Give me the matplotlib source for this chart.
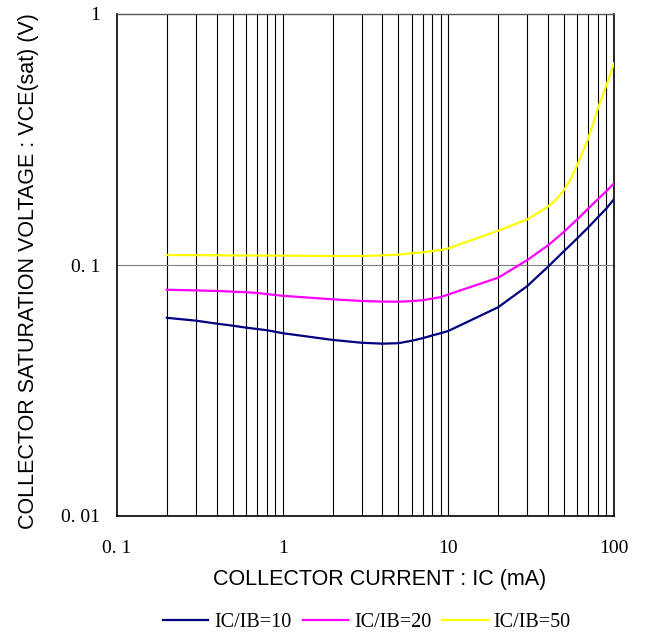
import matplotlib
matplotlib.use('Agg')
import matplotlib.pyplot as plt
from matplotlib.ticker import FixedLocator, NullFormatter

# readings (IC in mA, VCE(sat) in V)
ic_10 = [0.2, 0.3, 0.4, 0.5, 0.6, 0.7, 0.8, 1, 2, 3, 4, 5, 6, 7, 8, 9, 10, 20, 30, 40, 50, 60, 70, 80, 90, 100]
vce_10 = [0.0616, 0.060, 0.0584, 0.0573, 0.0563, 0.0556, 0.055, 0.0535, 0.0503, 0.049, 0.0486, 0.0488, 0.0499,
          0.0511, 0.0524, 0.0535, 0.0546, 0.0679, 0.0825, 0.0985, 0.1137, 0.1277, 0.1413, 0.155, 0.168, 0.183]

ic_20 = [0.2, 0.3, 0.4, 0.5, 0.6, 0.7, 0.8, 1, 2, 3, 4, 5, 6, 7, 8, 9, 10, 20, 30, 40, 50, 60, 70, 80, 90, 100]
vce_20 = [0.0797, 0.0792, 0.0788, 0.0783, 0.0779, 0.0774, 0.0766, 0.0754, 0.073, 0.0719, 0.0715, 0.0714, 0.0718,
          0.0724, 0.0735, 0.0745, 0.0763, 0.089, 0.1047, 0.1198, 0.1357, 0.152, 0.168, 0.183, 0.197, 0.2116]

ic_50 = [0.2, 0.5, 1, 2, 3, 4, 5, 6, 7, 8, 9, 10, 20, 30, 40, 45, 50, 55, 60, 70, 80, 90, 100]
vce_50 = [0.1096, 0.1092, 0.109, 0.1086, 0.1086, 0.1093, 0.110, 0.1113, 0.1122, 0.1137, 0.1148, 0.1165, 0.137,
          0.152, 0.171, 0.183, 0.199, 0.221, 0.250, 0.320, 0.421, 0.521, 0.636]

labels = ['IC/IB=10', 'IC/IB=20', 'IC/IB=50']
colors = ['#000080', '#ff00ff', '#ffff00']

x_ticks = [0.1, 1, 10, 100]
x_ticklabels = ['0. 1', '1', '10', '100']
y_ticks = [0.01, 0.1, 1]
y_ticklabels = ['0. 01', '0. 1', '1']

serif = ['Liberation Serif', 'DejaVu Serif']
sans = ['Liberation Sans', 'DejaVu Sans']

fig = plt.figure(figsize=(6.5, 6.37), dpi=100)
ax = fig.add_axes([117/650, 121/637, 497/650, 502/637])

ax.set_xscale('log')
ax.set_yscale('log')
ax.set_xlim(0.1, 100)
ax.set_ylim(0.01, 1)

# vertical grid on every 1-2-..-9 step, horizontal only at 0.1
minor_x = [m * 10**e for e in (-1, 0, 1) for m in range(2, 10)]
for xv in minor_x + [1, 10]:
    ax.axvline(xv, color='black', lw=0.8, zorder=1)
ax.axhline(0.1, color='#808080', lw=0.8, zorder=1)

for xs, ys, lab, c in zip([ic_10, ic_20, ic_50], [vce_10, vce_20, vce_50], labels, colors):
    ax.plot(xs, ys, color=c, lw=1.6, label=lab, zorder=3)

ax.xaxis.set_major_locator(FixedLocator(x_ticks))
ax.yaxis.set_major_locator(FixedLocator(y_ticks))
ax.xaxis.set_minor_formatter(NullFormatter())
ax.yaxis.set_minor_formatter(NullFormatter())
ax.set_xticklabels(x_ticklabels, family=serif, fontsize=14)
ax.set_yticklabels(y_ticklabels, family=serif, fontsize=14)
ax.tick_params(which='both', length=0)
ax.tick_params(axis='x', pad=17)
ax.tick_params(axis='y', pad=12)

for s in ax.spines.values():
    s.set_color('black')
    s.set_linewidth(1.2)
ax.spines['top'].set_color('#555555')
ax.spines['top'].set_linewidth(1.0)

ax.set_xlabel('COLLECTOR CURRENT : IC (mA)', family=sans, fontsize=15.5, va='center')
ax.xaxis.set_label_coords((380 - 117) / 497, (516 - 580) / 502)
ax.set_ylabel('COLLECTOR SATURATION VOLTAGE : VCE(sat) (V)', family=sans, fontsize=15.5, va='center')
ax.yaxis.set_label_coords((29 - 117) / 497, (516 - 271) / 502)

leg = fig.legend(loc='center', bbox_to_anchor=(367/650, 1 - 622/637), ncol=3, frameon=False,
                 prop={'family': serif, 'size': 14.5}, handlelength=2.25, columnspacing=0.55,
                 handletextpad=0.3)

fig.savefig('out.png', dpi=100)
